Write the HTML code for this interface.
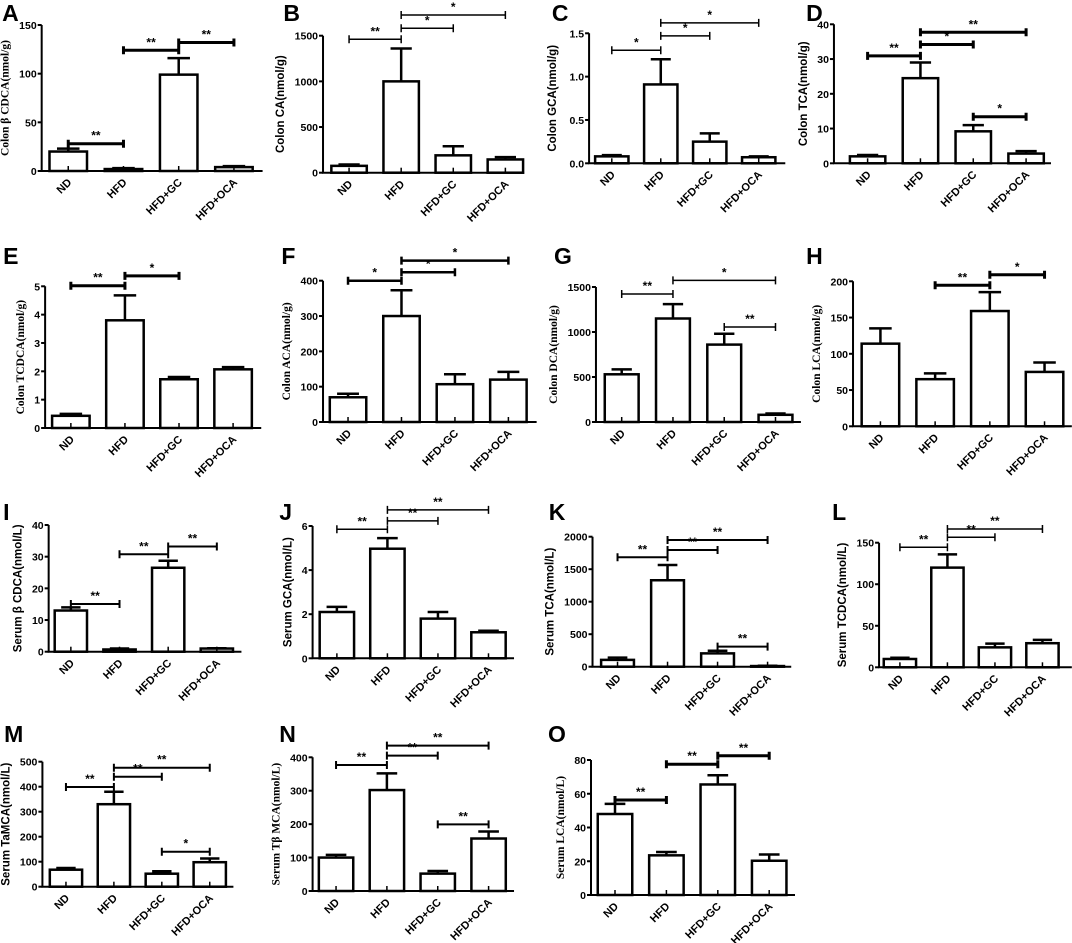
<!DOCTYPE html>
<html><head><meta charset="utf-8"><style>
body{margin:0;background:#fff;}
svg{display:block;}
</style></head><body>
<svg id="fig" width="1072" height="943" viewBox="0 0 1072 943" xmlns="http://www.w3.org/2000/svg"></svg>
<script>
const groups = ["ND","HFD","HFD+GC","HFD+OCA"];

const meanA=[20,2,99,4];      const errA=[23,3,116,5];      const ticksA=[0,50,100,150];
const brA=[[0,1,28,"**"],[1,2,124,"**"],[2,3,132,"**"]];
const meanB=[75,1000,190,145]; const errB=[90,1360,290,170]; const ticksB=[0,500,1000,1500];
const brB=[[0,1,1461,"**"],[1,2,1581,"*"],[1,3,1727,"*"]];
const meanC=[0.08,0.91,0.25,0.07]; const errC=[0.095,1.2,0.345,0.08]; const ticksC=["0.0","0.5","1.0","1.5"];
const brC=[[0,1,1.304,"*"],[1,2,1.47,"*"],[1,3,1.62,"*"]];
const meanD=[2,24.5,9.2,2.8]; const errD=[2.4,29,11,3.5]; const ticksD=[0,10,20,30,40];
const brD=[[0,1,30.9,"**"],[1,2,34.2,"*"],[1,3,37.7,"**"],[2,3,13.4,"*"]];
const meanE=[0.43,3.8,1.72,2.07]; const errE=[0.5,4.68,1.8,2.15]; const ticksE=[0,1,2,3,4,5];
const brE=[[0,1,5.02,"**"],[1,2,5.37,"*"]];
const meanF=[70,300,107,120]; const errF=[80,373,135,142]; const ticksF=[0,100,200,300,400];
const brF=[[0,1,400,"*"],[1,2,424,"*"],[1,3,457,"*"]];
const meanG=[530,1150,860,80]; const errG=[585,1310,980,95]; const ticksG=[0,500,1000,1500];
const brG=[[0,1,1422,"**"],[1,3,1574,"*"],[2,3,1055,"**"]];
const meanH=[114,65,159,75]; const errH=[135,73,185,88]; const ticksH=[0,50,100,150,200];
const brH=[[1,2,194.5,"**"],[2,3,209,"*"]];
const meanI=[13,0.7,26.5,1]; const errI=[14,1,28.7,1.1]; const ticksI=[0,10,20,30,40];
const brI=[[0,1,15.06,"**"],[1,2,30.75,"**"],[2,3,33.2,"**"]];
const meanJ=[2.1,4.97,1.8,1.18]; const errJ=[2.33,5.45,2.1,1.25]; const ticksJ=[0,2,4,6];
const brJ=[[0,1,5.85,"**"],[1,2,6.23,"**"],[1,3,6.73,"**"]];
const meanK=[105,1330,205,10]; const errK=[140,1565,245,15]; const ticksK=[0,500,1000,1500,2000];
const brK=[[0,1,1683,"**"],[1,2,1795,"**"],[1,3,1949,"**"],[2,3,308,"**"]];
const meanL=[10,120,24,29]; const errL=[11.5,136,28.5,33]; const ticksL=[0,50,100,150];
const brL=[[0,1,144.5,"**"],[1,2,156.5,"**"],[1,3,166.5,"**"]];
const meanM=[68,330,52,98]; const errM=[75,380,62,113]; const ticksM=[0,100,200,300,400,500];
const brM=[[0,1,399,"**"],[1,2,440,"**"],[1,3,476,"**"],[2,3,140,"*"]];
const meanN=[100,302,52,157]; const errN=[108,352,60,178]; const ticksN=[0,100,200,300,400];
const brN=[[0,1,377,"**"],[1,2,405,"**"],[1,3,435,"**"],[2,3,199.5,"**"]];
const meanO=[48,23.5,65.5,20.3]; const errO=[54,25.5,71,24]; const ticksO=[0,20,40,60,80];
const brO=[[0,1,56.3,"**"],[1,2,77.5,"**"],[2,3,82.5,"**"]];

const SANS='"Liberation Sans",Arial,sans-serif', SERIF='"Liberation Serif","DejaVu Serif",serif';
// layout (pixel geometry only)
const panels=[
 {id:"A",mean:meanA,err:errA,ticks:ticksA,br:brA,title:"Colon β CDCA(nmol/g)",font:SERIF,ox:0,k:1.042,ax:40,end:252,c0:65.5,step:53,w:36,top:25,base:171,lx:2,ly:21,bw:3},
 {id:"B",mean:meanB,err:errB,ticks:ticksB,br:brB,title:"Colon CA(nmol/g)",font:SANS,ox:0,k:1.042,ax:310,end:503,c0:335,step:50,w:34,top:35.7,base:172.7,lx:272,ly:21,bw:1.5},
 {id:"C",mean:meanC,err:errC,ticks:ticksC,br:brC,title:"Colon GCA(nmol/g)",font:SANS,ox:530,k:1.042,ax:586.7,end:775,c0:608.5,step:47,w:32,top:33.3,base:163.3,lx:551,ly:21,bw:1.5},
 {id:"D",mean:meanD,err:errD,ticks:ticksD,br:brD,title:"Colon TCA(nmol/g)",font:SANS,ox:530,k:1.042,ax:821.7,end:1030,c0:854,step:50.7,w:34,top:24.3,base:163.3,lx:795,ly:21,bw:3},
 {id:"E",mean:meanE,err:errE,ticks:ticksE,br:brE,title:"Colon TCDCA(nmol/g)",font:SERIF,ox:0,k:1.042,ax:43.3,end:250.7,c0:68,step:51.9,w:36,top:286.3,base:428,lx:3,ly:264,bw:3},
 {id:"F",mean:meanF,err:errF,ticks:ticksF,br:brF,title:"Colon ACA(nmol/g)",font:SERIF,ox:0,k:1.042,ax:310,end:515,c0:334,step:51.3,w:35,top:280.7,base:422,lx:270,ly:264,bw:2.5},
 {id:"G",mean:meanG,err:errG,ticks:ticksG,br:brG,title:"Colon DCA(nmol/g)",font:SERIF,ox:530,k:1.042,ax:593.3,end:790,c0:618,step:49.2,w:32.5,top:287,base:422,lx:553,ly:264,bw:1.5},
 {id:"H",mean:meanH,err:errH,ticks:ticksH,br:brH,title:"Colon LCA(nmol/g)",font:SERIF,ox:530,k:1.042,ax:840,end:1050,c0:866.3,step:52.5,w:36,top:281.3,base:426.3,lx:795,ly:264,bw:3},
 {id:"I",mean:meanI,err:errI,ticks:ticksI,br:brI,title:"Serum β CDCA(nmol/L)",font:SANS,ox:0,k:1.042,ax:46.7,end:231.7,c0:68,step:46.7,w:31,top:525,base:651.7,lx:3,ly:520,bw:2},
 {id:"J",mean:meanJ,err:errJ,ticks:ticksJ,br:brJ,title:"Serum GCA(nmol/L)",font:SANS,ox:0,k:1.042,ax:300,end:493.3,c0:323.3,step:48.5,w:33,top:526,base:658.3,lx:268,ly:520,bw:1.5},
 {id:"K",mean:meanK,err:errK,ticks:ticksK,br:brK,title:"Serum TCA(nmol/L)",font:SANS,ox:530,k:1.042,ax:590,end:780.7,c0:614,step:48,w:31.5,top:536.7,base:666.7,lx:548,ly:520,bw:2},
 {id:"L",mean:meanL,err:errL,ticks:ticksL,br:brL,title:"Serum TCDCA(nmol/L)",font:SANS,ox:530,k:1.042,ax:865,end:1050,c0:885,step:45.6,w:31,top:542.7,base:667.3,lx:820,ly:520,bw:1.5},
 {id:"M",mean:meanM,err:errM,ticks:ticksM,br:brM,title:"Serum TaMCA(nmol/L)",font:SANS,ox:0,k:1.042,ax:40.7,end:224,c0:63.3,step:46,w:31,top:761.7,base:886.7,lx:4,ly:742,bw:2},
 {id:"N",mean:meanN,err:errN,ticks:ticksN,br:brN,title:"Serum Tβ MCA(nmol/L)",font:SERIF,ox:0,k:1.042,ax:300,end:493.3,c0:322.5,step:48.8,w:33,top:757.3,base:891,lx:268,ly:742,bw:2},
 {id:"O",mean:meanO,err:errO,ticks:ticksO,br:brO,title:"Serum LCA(nmol/L)",font:SERIF,ox:530,k:1,ax:591,end:795,c0:615,step:51.4,w:34.5,top:760,base:895,lx:548,ly:742,bw:3}
];
const NS="http://www.w3.org/2000/svg", svg=document.getElementById("fig");
function mk(tag,attrs,parent,txt){const e=document.createElementNS(NS,tag);for(const k in attrs)e.setAttribute(k,attrs[k]);if(txt!==undefined)e.textContent=txt;(parent||svg).appendChild(e);return e;}

panels.forEach(p=>{
  const X=v=>p.ox+(v-p.ox)*p.k;
  const ymax=parseFloat(p.ticks[p.ticks.length-1]);
  const yS=v=>p.base-(v/ymax)*(p.base-p.top);
  const xC=i=>X(p.c0+i*p.step);
  const w=p.w*p.k;
  const g=mk("g",{});
  
  
  const L=mk("text",{x:X(p.lx),y:p.ly,"font-family":SANS,"font-size":23,"font-weight":"bold"},g,p.id);
  
  
  p.mean.forEach((m,i)=>{
    const cx=xC(i);
    const r=mk("rect",{x:cx-w/2,y:yS(m),width:w,height:p.base-yS(m),fill:"#fff",stroke:"#000","stroke-width":2.5},g);
    
    
    const e=mk("path",{d:`M${cx},${yS(m)}V${yS(p.err[i])}M${cx-w*0.3},${yS(p.err[i])}H${cx+w*0.3}`,stroke:"#000","stroke-width":2.5,fill:"none"},g);
    
    
    mk("path",{d:`M${cx},${p.base}v-5`,stroke:"#000","stroke-width":1.5},g);
    const t=mk("text",{transform:`translate(${cx+4},${p.base+12}) rotate(-45)`,"text-anchor":"end","font-family":SANS,"font-size":11,"font-weight":"bold"},g,groups[i]);
    
    
  });
  const ax=X(p.ax);
  const a=mk("path",{d:`M${ax},${p.top}V${p.base}H${X(p.end)}`,stroke:"#000","stroke-width":2,fill:"none"},g);
  
  
  let maxc=0;
  p.ticks.forEach(t=>{
    const y=yS(parseFloat(t));
    maxc=Math.max(maxc,String(t).length);
    mk("path",{d:`M${ax-4},${y}H${ax}`,stroke:"#000","stroke-width":2},g);
    const tl=mk("text",{x:ax-5,y:y+4,"text-anchor":"end","font-family":SANS,"font-size":10.5,"font-weight":"bold"},g,String(t));
    
    
  });
  const tx=ax-(maxc*6+15);
  const yt=mk("text",{transform:`translate(${tx},${(p.top+p.base)/2}) rotate(-90)`,"text-anchor":"middle","font-family":p.font,"font-size":11.5,"font-weight":"bold"},g,p.title);
  
  
  p.br.forEach(b=>{
    const x1=xC(b[0]),x2=xC(b[1]),y=yS(b[2]);
    const bp=mk("path",{d:`M${x1},${y-4}v8M${x1},${y}H${x2}M${x2},${y-4}v8`,stroke:"#000","stroke-width":p.bw,fill:"none"},g);
    
    
    const st=mk("text",{x:(x1+x2)/2,y:y-4,"text-anchor":"middle","font-family":SANS,"font-size":12,"font-weight":"bold"},g,b[3]);
    
    
  });
});
</script>
</body></html>
